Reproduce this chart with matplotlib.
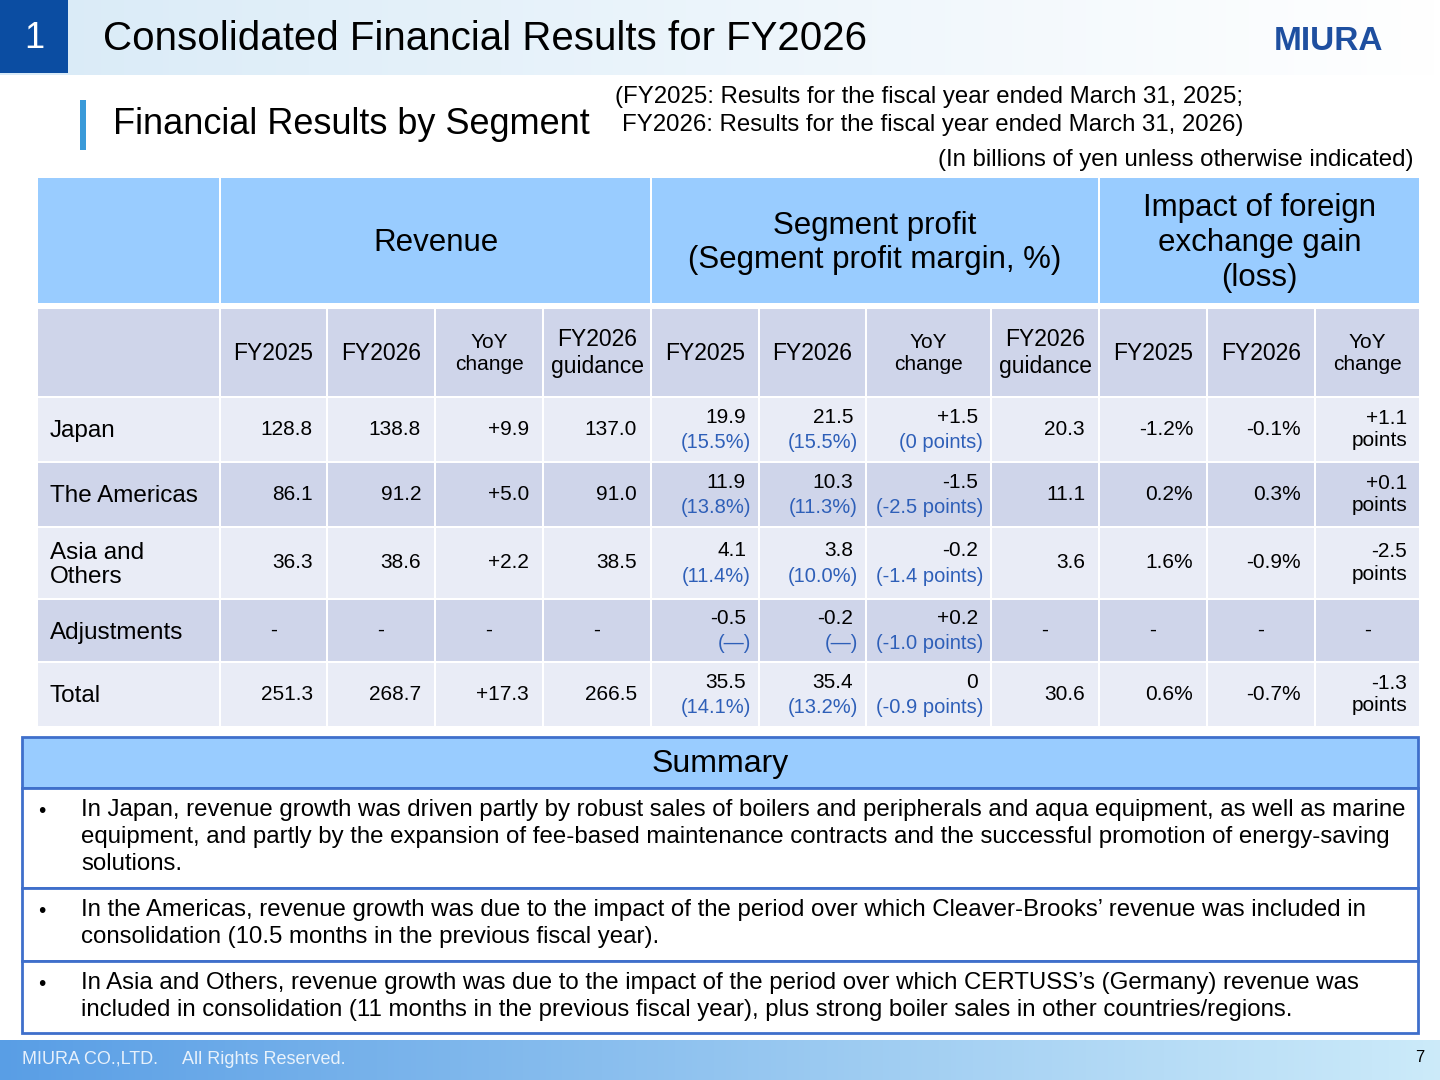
import matplotlib
matplotlib.use("Agg")
import matplotlib.pyplot as plt
from matplotlib.patches import Rectangle
import numpy as np

plt.rcParams['font.family'] = ['Liberation Sans', 'DejaVu Sans']

segments = ["Japan", "The Americas", "Asia and\nOthers", "Adjustments", "Total"]
rev_fy2025 = ["128.8", "86.1", "36.3", "-", "251.3"]
rev_fy2026 = ["138.8", "91.2", "38.6", "-", "268.7"]
rev_yoy = ["+9.9", "+5.0", "+2.2", "-", "+17.3"]
rev_guid = ["137.0", "91.0", "38.5", "-", "266.5"]
sp_fy2025 = ["19.9", "11.9", "4.1", "-0.5", "35.5"]
sp_fy2025_m = ["(15.5%)", "(13.8%)", "(11.4%)", "(—)", "(14.1%)"]
sp_fy2026 = ["21.5", "10.3", "3.8", "-0.2", "35.4"]
sp_fy2026_m = ["(15.5%)", "(11.3%)", "(10.0%)", "(—)", "(13.2%)"]
sp_yoy = ["+1.5", "-1.5", "-0.2", "+0.2", "0"]
sp_yoy_m = ["(0 points)", "(-2.5 points)", "(-1.4 points)", "(-1.0 points)", "(-0.9 points)"]
sp_guid = ["20.3", "11.1", "3.6", "-", "30.6"]
fx_fy2025 = ["-1.2%", "0.2%", "1.6%", "-", "0.6%"]
fx_fy2026 = ["-0.1%", "0.3%", "-0.9%", "-", "-0.7%"]
fx_yoy = ["+1.1\npoints", "+0.1\npoints", "-2.5\npoints", "-", "-1.3\npoints"]
summary = [
    "In Japan, revenue growth was driven partly by robust sales of boilers and peripherals and aqua equipment, as well as marine\nequipment, and partly by the expansion of fee-based maintenance contracts and the successful promotion of energy-saving\nsolutions.",
    "In the Americas, revenue growth was due to the impact of the period over which Cleaver-Brooks’ revenue was included in\nconsolidation (10.5 months in the previous fiscal year).",
    "In Asia and Others, revenue growth was due to the impact of the period over which CERTUSS’s (Germany) revenue was\nincluded in consolidation (11 months in the previous fiscal year), plus strong boiler sales in other countries/regions.",
]

fig = plt.figure(figsize=(14.4, 10.8), dpi=100)
ax = fig.add_axes([0, 0, 1, 1])
ax.set_xlim(0, 1440); ax.set_ylim(1080, 0); ax.axis('off')

def rect(x0, y0, x1, y1, fc, ec='none', lw=0, z=1):
    ax.add_patch(Rectangle((x0, y0), x1 - x0, y1 - y0, fc=fc, ec=ec, lw=lw, zorder=z))

grad = np.linspace(0, 1, 256).reshape(1, -1)
ax.imshow(np.dstack([0.85 + 0.15*grad, 0.92 + 0.08*grad, 0.97 + 0.03*grad]), extent=(0, 1440, 75, 0), aspect='auto', zorder=0)
rect(0, 0, 68, 73, '#0B4DA2', z=2)
ax.text(34, 38, "1", color='white', fontsize=26, ha='center', va='center', zorder=3)
ax.text(103, 39, "Consolidated Financial Results for FY2026", fontsize=29, va='center', zorder=3)
ax.text(1328, 42, "MIURA", color='#1E4FA0', fontsize=24, fontweight='bold', ha='center', va='center', zorder=3)

rect(80, 100, 86, 150, '#3A9AD9', z=2)
ax.text(113, 125, "Financial Results by Segment", fontsize=26, va='center')
ax.text(615, 97, "(FY2025: Results for the fiscal year ended March 31, 2025;", fontsize=17.3, va='center')
ax.text(622, 125, "FY2026: Results for the fiscal year ended March 31, 2026)", fontsize=17.3, va='center')
ax.text(1414, 160, "(In billions of yen unless otherwise indicated)", fontsize=17.3, va='center', ha='right')

xs = [37, 220, 327, 435, 543, 651, 759, 866, 991, 1099, 1207, 1315, 1420]
hb = '#99CCFF'
dark = '#CFD5EA'
light = '#E9ECF6'
g = 2
for x0, x1, t in [(37, 220, ""), (220, 651, "Revenue"), (651, 1099, "Segment profit\n(Segment profit margin, %)"), (1099, 1420, "Impact of foreign\nexchange gain\n(loss)")]:
    rect(x0 + g/2, 178, x1 - g/2, 303, hb)
    ax.text((x0 + x1)/2, 243, t, fontsize=22.5, ha='center', va='center', linespacing=1.2)
sub = ["", "FY2025", "FY2026", "YoY\nchange", "FY2026\nguidance", "FY2025", "FY2026", "YoY\nchange", "FY2026\nguidance", "FY2025", "FY2026", "YoY\nchange"]
for i, t in enumerate(sub):
    rect(xs[i] + g/2, 309, xs[i+1] - g/2, 396, dark)
    fs = 15 if t.startswith("YoY") else 16.5
    ax.text((xs[i] + xs[i+1])/2, 353, t, fontsize=fs, ha='center', va='center', linespacing=1.2)

rows = [(398, 461), (463, 526), (528, 598), (600, 661), (663, 726)]
blue = '#2E5FB8'
for r, (y0, y1) in enumerate(rows):
    fc = light if r % 2 == 0 else dark
    for i in range(12):
        rect(xs[i] + g/2, y0, xs[i+1] - g/2, y1, fc)
    yc = (y0 + y1)/2
    ax.text(50, yc + 2, segments[r], fontsize=17.5, va='center', linespacing=1.15)
    simple = {1: rev_fy2025, 2: rev_fy2026, 3: rev_yoy, 4: rev_guid, 8: sp_guid, 9: fx_fy2025, 10: fx_fy2026}
    for c, arr in simple.items():
        v = arr[r]
        if v == "-":
            ax.text((xs[c] + xs[c+1])/2, yc, v, fontsize=15, ha='center', va='center')
        else:
            ax.text(xs[c+1] - 14, yc, v, fontsize=15, ha='right', va='center')
    v = fx_yoy[r]
    if v == "-":
        ax.text((xs[11] + xs[12])/2, yc, v, fontsize=15, ha='center', va='center')
    else:
        ax.text(xs[12] - 13, yc, v, fontsize=15, ha='right', va='center', linespacing=1.25)
    for c, a, m in [(5, sp_fy2025, sp_fy2025_m), (6, sp_fy2026, sp_fy2026_m), (7, sp_yoy, sp_yoy_m)]:
        ax.text(xs[c+1] - 13, yc - 12, a[r], fontsize=15, ha='right', va='center')
        ax.text(xs[c+1] - 8, yc + 13, m[r], fontsize=14.5, ha='right', va='center', color=blue)

bc = '#3F6FCB'
rect(22, 737, 1418, 788, hb, ec=bc, lw=2)
ax.text(720, 764, "Summary", fontsize=23, ha='center', va='center')
srows = [(788, 888), (888, 961), (961, 1033)]
for (y0, y1), t in zip(srows, summary):
    rect(22, y0, 1418, y1, 'white', ec=bc, lw=2)
    ax.text(38, y0 + 14, "•", fontsize=15, va='top')
    ax.text(81, y0 + 11, t, fontsize=17.3, va='top', linespacing=1.28)

ax.imshow(np.dstack([0.35 + 0.45*grad, 0.62 + 0.3*grad, 0.9 + 0.08*grad]), extent=(0, 1440, 1080, 1040), aspect='auto', zorder=0)
ax.text(22, 1059, "MIURA CO.,LTD.     All Rights Reserved.", color='white', fontsize=13, va='center', alpha=0.85)
ax.text(1424, 1058, "7", fontsize=12, ha='right', va='center')

fig.savefig("out.png", dpi=100)
